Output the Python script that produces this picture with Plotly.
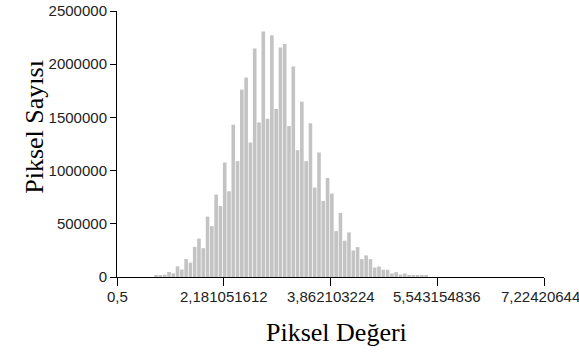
import plotly.graph_objects as go

# Histogram bins: first bin centre and bin width on the pixel-value axis
bin_start = 1.116
bin_width = 0.0675

# Pixel counts per bin
pixel_counts = [
    10000, 12000, 22000, 47000, 35000, 100000, 70000, 170000, 135000, 283000,
    361000, 271000, 568000, 478000, 775000, 667000, 1076000, 806000, 1431000, 1089000,
    1761000, 1875000, 1263000, 2147000, 1453000, 2307000, 1487000, 2272000, 1579000, 2158000,
    2191000, 1419000, 1978000, 1192000, 1648000, 1089000, 1444000, 841000, 1170000, 715000,
    931000, 784000, 432000, 603000, 341000, 419000, 249000, 281000, 168000, 203000,
    168000, 89000, 99000, 68000, 68000, 33000, 45000, 22000, 33000, 15000,
    14000, 12000, 10000, 11000,
]

bin_centres = [bin_start + i * bin_width for i in range(len(pixel_counts))]

x_tickvals = [0.5, 2.181051612, 3.862103224, 5.543154836, 7.22420644]
x_ticktext = ["0,5", "2,181051612", "3,862103224", "5,543154836", "7,22420644"]
y_tickvals = [0, 500000, 1000000, 1500000, 2000000, 2500000]
y_ticktext = ["0", "500000", "1000000", "1500000", "2000000", "2500000"]

fig = go.Figure(
    go.Bar(
        x=bin_centres,
        y=pixel_counts,
        width=bin_width * 0.84,
        marker=dict(color="#c3c3c3", line=dict(width=0)),
        hoverinfo="x+y",
    )
)

tick_font = dict(family="Liberation Sans, Arial, sans-serif", size=15, color="#222222")
title_font = dict(family="Liberation Serif, Times New Roman, serif", size=26, color="#000000")

# x tick labels drawn as annotations so the last one can sit inside the page edge
x_label_annotations = []
for i, (val, txt) in enumerate(zip(x_tickvals, x_ticktext)):
    last = i == len(x_tickvals) - 1
    x_label_annotations.append(
        dict(
            text=txt,
            xref="x", yref="paper",
            x=val, y=0,
            xanchor="center", yanchor="top",
            yshift=-9,
            xshift=-4 if last else 0,
            showarrow=False,
            font=tick_font,
        )
    )

fig.update_layout(
    width=579,
    height=354,
    margin=dict(l=117, r=35, t=11, b=77, autoexpand=False),
    paper_bgcolor="white",
    plot_bgcolor="white",
    showlegend=False,
    xaxis=dict(
        range=[0.5, 7.22420644],
        tickmode="array",
        tickvals=x_tickvals,
        showticklabels=False,
        showline=True,
        linecolor="black",
        linewidth=1,
        ticks="outside",
        ticklen=8,
        tickcolor="black",
        showgrid=False,
        zeroline=False,
        automargin=False,
    ),
    yaxis=dict(
        range=[0, 2500000],
        tickmode="array",
        tickvals=y_tickvals,
        ticktext=y_ticktext,
        showline=True,
        linecolor="black",
        linewidth=1,
        ticks="outside",
        ticklen=6,
        tickcolor="black",
        showgrid=False,
        zeroline=False,
        tickfont=tick_font,
        ticklabeloverflow="allow",
        automargin=False,
    ),
    annotations=x_label_annotations + [
        dict(
            text="Piksel Değeri",
            xref="paper", yref="paper",
            x=0.513, y=-0.21,
            xanchor="center", yanchor="middle",
            showarrow=False,
            font=title_font,
        ),
        dict(
            text="Piksel Sayısı",
            xref="paper", yref="paper",
            x=-0.192, y=0.565,
            xanchor="center", yanchor="middle",
            textangle=-90,
            showarrow=False,
            font=title_font,
        ),
    ],
)

fig.write_html("out.html")
